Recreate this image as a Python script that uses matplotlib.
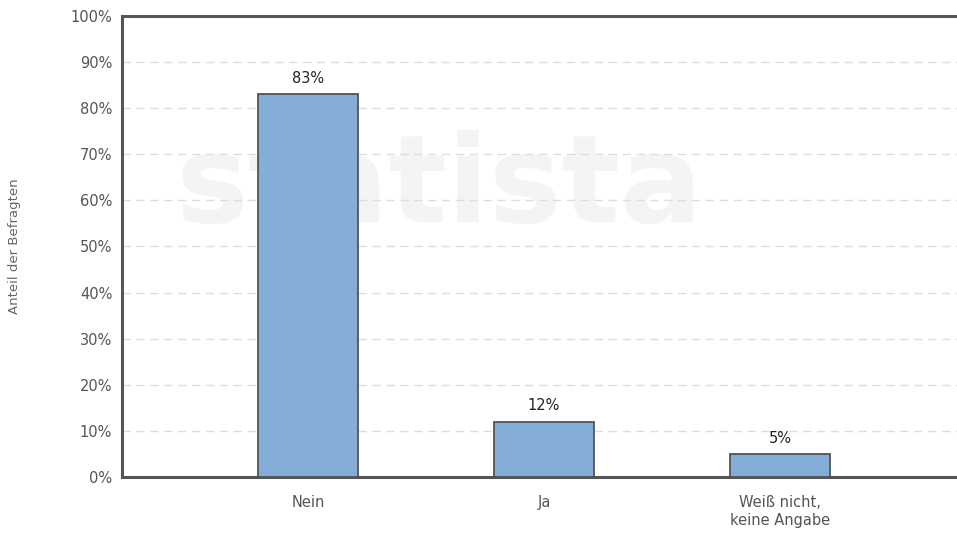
import matplotlib
matplotlib.use("Agg")
import matplotlib.pyplot as plt
import numpy as np

# --- data ---
categories = ["Nein", "Ja", "Weiß nicht,\nkeine Angabe"]
values = [83, 12, 5]
yticks = list(range(0, 101, 10))

fig = plt.figure(figsize=(9.57, 5.41), dpi=100)
ax = fig.add_axes([122 / 957, 1 - 477 / 541, 1 - 122 / 957, (477 - 16) / 541])

x = np.arange(len(categories))
ax.bar(x, values, width=0.424, color="#85aed7", edgecolor="#4a4a4a", linewidth=1.2, zorder=3)

for xi, v in zip(x, values):
    ax.text(xi, v + 1.8, f"{v}%", ha="center", va="bottom", fontsize=10.5, color="#222222", zorder=4)

# watermark
ax.text(0.38, 0.625, "statista", transform=ax.transAxes, ha="center", va="center",
        fontsize=88, fontweight="bold", color="#f4f4f4", zorder=0)

ax.set_xlim(-0.788, 2.75)
ax.set_ylim(0, 100)
ax.set_yticks(yticks)
ax.set_yticklabels([f"{t}%" for t in yticks], fontsize=10.5, color="#555555")
ax.set_xticks(x)
ax.set_xticklabels(categories, fontsize=10.5, color="#555555", linespacing=1.25)
ax.tick_params(axis="both", length=0, pad=7)
ax.tick_params(axis="x", pad=13)

for t in yticks[1:-1]:
    ax.axhline(t, color="#dddddd", linestyle=(0, (6, 4)), linewidth=1, zorder=1)

for side in ["left", "top", "bottom"]:
    ax.spines[side].set_color("#555555")
    ax.spines[side].set_linewidth(2.2)
ax.spines["right"].set_visible(False)

ax.set_ylabel("Anteil der Befragten", fontsize=9.5, color="#666666", labelpad=36)

fig.savefig("out.png", dpi=100)
